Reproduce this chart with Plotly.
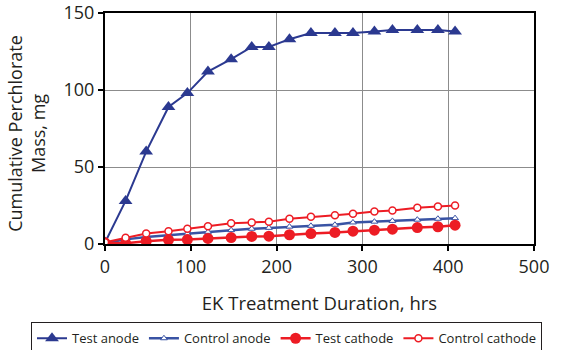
import plotly.graph_objects as go

hours = [0, 24, 48, 74, 96, 120, 147, 171, 191, 215, 240, 268, 289, 314, 335, 364, 388, 408]
test_anode = [1, 28, 60, 89, 98, 112, 120, 128, 128, 133, 137, 137, 137, 138, 139, 139, 139, 138]
control_anode = [0.5, 3, 4.5, 5.8, 6.8, 7.9, 9, 9.9, 10.5, 11.3, 11.8, 12.5, 14, 14.5, 15, 15.8, 16.4, 16.8]
test_cathode = [0.8, 0.5, 1.8, 2.7, 2.9, 3.6, 4.2, 4.9, 5.1, 6.0, 6.8, 7.5, 8.3, 9.0, 9.6, 10.7, 11.2, 12.2]
control_cathode = [1.2, 4.0, 6.8, 8.3, 9.9, 11.6, 13.5, 14.0, 14.4, 16.4, 17.7, 18.7, 19.6, 21.1, 21.8, 23.6, 24.4, 25.0]

BLUE = "#2B3990"
BLUE2 = "#3953A4"
RED = "#ED1C24"
FONT = "Open Sans"
TXT = "#231F20"

fig = go.Figure()
fig.add_trace(go.Scatter(x=hours, y=test_anode, name="Test anode", mode="lines+markers",
                         line=dict(color=BLUE, width=2),
                         marker=dict(symbol="triangle-up", size=12, color=BLUE)))
fig.add_trace(go.Scatter(x=hours, y=control_anode, name="Control anode", mode="lines+markers",
                         line=dict(color=BLUE2, width=2.5),
                         marker=dict(symbol="triangle-up", size=6, color="white",
                                     line=dict(color=BLUE2, width=1))))
fig.add_trace(go.Scatter(x=hours, y=test_cathode, name="Test cathode", mode="lines+markers",
                         line=dict(color=RED, width=2.5),
                         marker=dict(symbol="circle", size=11, color=RED)))
fig.add_trace(go.Scatter(x=hours, y=control_cathode, name="Control cathode", mode="lines+markers",
                         line=dict(color=RED, width=2),
                         marker=dict(symbol="circle", size=7, color="white",
                                     line=dict(color=RED, width=1.5))))

fig.update_layout(
    width=577, height=350,
    margin=dict(l=105, r=43, t=13, b=105.5, autoexpand=False),
    paper_bgcolor="white", plot_bgcolor="white",
    font=dict(family=FONT, color=TXT, size=16),
    showlegend=True,
    legend=dict(orientation="h", x=-0.1725, y=-0.339, xanchor="left", yanchor="top",
                bordercolor=TXT, borderwidth=1, font=dict(size=13, family=FONT, color=TXT),
                itemwidth=30, tracegroupgap=0, bgcolor="white"),
    annotations=[dict(text="Cumulative Perchlorate<br>Mass, mg", xref="paper", yref="paper",
                      x=-0.185, y=0.48, xanchor="center", yanchor="middle", textangle=-90,
                      showarrow=False, align="center", font=dict(size=18, color=TXT))],
)
fig.update_xaxes(range=[0, 500], tickvals=[0, 100, 200, 300, 400, 500],
                 showgrid=True, gridcolor="#8C8C8C", gridwidth=1,
                 showline=True, linecolor="black", linewidth=2, mirror=True,
                 ticks="outside", ticklen=5, tickcolor="black", tickwidth=2,
                 tickfont=dict(size=18), zeroline=False,
                 title=dict(text="EK Treatment Duration, hrs", font=dict(size=18.5), standoff=20))
fig.update_yaxes(range=[0, 150], tickvals=[0, 50, 100, 150],
                 showgrid=True, gridcolor="#8C8C8C", gridwidth=1,
                 showline=True, linecolor="black", linewidth=2, mirror=True,
                 ticks="outside", ticklen=5, tickcolor="black", tickwidth=2,
                 tickfont=dict(size=18), zeroline=False)

fig.write_html("out.html")
